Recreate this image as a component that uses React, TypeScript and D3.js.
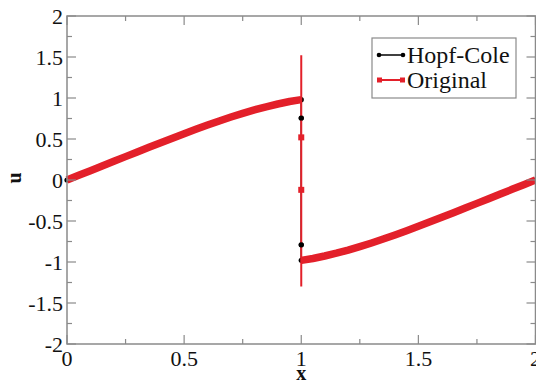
import React from "react";
import * as d3 from "d3";

// ---- data ----
const leftX = [0, 0.05, 0.1, 0.15, 0.2, 0.25, 0.3, 0.35, 0.4, 0.45, 0.5, 0.55, 0.6, 0.65, 0.7, 0.75, 0.8, 0.85, 0.9, 0.95, 1.0];
const leftU = [0, 0.057, 0.114, 0.171, 0.228, 0.285, 0.342, 0.398, 0.454, 0.51, 0.565, 0.618, 0.67, 0.72, 0.768, 0.813, 0.855, 0.893, 0.927, 0.957, 0.98];
const rightX = [1.0, 1.05, 1.1, 1.15, 1.2, 1.25, 1.3, 1.35, 1.4, 1.45, 1.5, 1.55, 1.6, 1.65, 1.7, 1.75, 1.8, 1.85, 1.9, 1.95, 2.0];
const rightU = [-0.98, -0.957, -0.927, -0.893, -0.855, -0.813, -0.768, -0.72, -0.67, -0.618, -0.565, -0.51, -0.454, -0.398, -0.342, -0.285, -0.228, -0.171, -0.114, -0.057, 0];
const shockX = 1.0;
const hopfShockU = [0.756, -0.79];
const origShockU = [1.52, 0.52, -0.12, -1.3];
const origShockMarked = [false, true, true, false];

const xTicks = [0, 0.5, 1, 1.5, 2];
const xTickLabels = ["0", "0.5", "1", "1.5", "2"];
const yTicks = [-2, -1.5, -1, -0.5, 0, 0.5, 1, 1.5, 2];
const yTickLabels = ["-2", "-1.5", "-1", "-0.5", "0", "0.5", "1", "1.5", "2"];
const xMinor = [0.25, 0.75, 1.25, 1.75];
const yMinor = [-1.75, -1.25, -0.75, -0.25, 0.25, 0.75, 1.25, 1.75];
const seriesNames = ["Hopf-Cole", "Original"];

const RED = "#e3202a";
const AXIS = "#8a8a8a";
const FONT = "'Liberation Serif', 'Times New Roman', serif";

export default function App() {
  const W = 536, H = 381;
  const x = d3.scaleLinear().domain([0, 2]).range([67, 535.5]);
  const y = d3.scaleLinear().domain([-2, 2]).range([344, 16]);
  const [x0, x1] = x.range();
  const [y0, y1] = y.range();

  type P = [number, number];
  const left: P[] = leftX.map((v, i) => [v, leftU[i]]);
  const right: P[] = rightX.map((v, i) => [v, rightU[i]]);
  const hopf: P[] = [...left, ...hopfShockU.map((u) => [shockX, u] as P), ...right];
  const orig: P[] = [...left, ...origShockU.map((u) => [shockX, u] as P), ...right];

  const line = d3.line<P>().x((d) => x(d[0])).y((d) => y(d[1]));

  const major = 9, minor = 5;

  return (
    <svg width={W} height={H} style={{ position: "fixed", left: 0, top: 0, background: "#fff" }} fontFamily={FONT}>
      <rect x={0} y={0} width={W} height={H} fill="#fff" />
      {/* Hopf-Cole series */}
      <path d={line(hopf) || ""} fill="none" stroke="#000" strokeWidth={1.5} />
      {hopf.map((d, i) => (
        <circle key={"h" + i} cx={x(d[0])} cy={y(d[1])} r={2.6} fill="#000" />
      ))}
      {/* Original series: thin connecting line + dense square markers along branches */}
      <path d={line(orig) || ""} fill="none" stroke={RED} strokeWidth={2} />
      <path d={line(left) || ""} fill="none" stroke={RED} strokeWidth={7.5} strokeLinejoin="round" />
      <path d={line(right) || ""} fill="none" stroke={RED} strokeWidth={7.5} strokeLinejoin="round" />
      {origShockU.map((u, i) =>
        origShockMarked[i] ? (
          <rect key={"o" + i} x={x(shockX) - 3} y={y(u) - 3} width={6} height={6} fill={RED} />
        ) : null
      )}
      {hopfShockU.map((u, i) => (
        <circle key={"hs" + i} cx={x(shockX)} cy={y(u)} r={2.6} fill="#000" />
      ))}

      {/* frame */}
      <rect x={x0} y={y1} width={x1 - x0} height={y0 - y1} fill="none" stroke={AXIS} strokeWidth={1.5} />
      {/* ticks */}
      {xTicks.map((t) => (
        <g key={"xt" + t} stroke={AXIS} strokeWidth={1.2}>
          <line x1={x(t)} x2={x(t)} y1={y0} y2={y0 - major} />
          <line x1={x(t)} x2={x(t)} y1={y1} y2={y1 + major} />
        </g>
      ))}
      {xMinor.map((t) => (
        <g key={"xm" + t} stroke={AXIS} strokeWidth={1.2}>
          <line x1={x(t)} x2={x(t)} y1={y0} y2={y0 - minor} />
          <line x1={x(t)} x2={x(t)} y1={y1} y2={y1 + minor} />
        </g>
      ))}
      {yTicks.map((t) => (
        <g key={"yt" + t} stroke={AXIS} strokeWidth={1.2}>
          <line x1={x0} x2={x0 + major} y1={y(t)} y2={y(t)} />
          <line x1={x1} x2={x1 - major} y1={y(t)} y2={y(t)} />
        </g>
      ))}
      {yMinor.map((t) => (
        <g key={"ym" + t} stroke={AXIS} strokeWidth={1.2}>
          <line x1={x0} x2={x0 + minor} y1={y(t)} y2={y(t)} />
          <line x1={x1} x2={x1 - minor} y1={y(t)} y2={y(t)} />
        </g>
      ))}
      {/* tick labels */}
      {xTicks.map((t, i) => (
        <text key={"xl" + t} x={x(t)} y={y0 + 22} textAnchor="middle" fontSize={22} fill="#111">
          {xTickLabels[i]}
        </text>
      ))}
      {yTicks.map((t, i) => (
        <text key={"yl" + t} x={x0 - 4} y={y(t) + 7.5} textAnchor="end" fontSize={22} fill="#111">
          {yTickLabels[i]}
        </text>
      ))}
      {/* axis titles */}
      <text x={x(1)} y={380} textAnchor="middle" fontSize={20} fontWeight="bold" fill="#111">x</text>
      <text transform={`translate(21, ${y(0) - 2}) rotate(-90)`} textAnchor="middle" fontSize={20} fontWeight="bold" fill="#111">u</text>

      {/* legend */}
      <rect x={372} y={38} width={144} height={60} fill="#fff" stroke={AXIS} strokeWidth={1.2} />
      <line x1={378} x2={404} y1={55} y2={55} stroke="#000" strokeWidth={1.5} />
      <circle cx={379} cy={55} r={2.3} fill="#000" />
      <circle cx={403} cy={55} r={2.3} fill="#000" />
      <text x={407} y={63} fontSize={24} fill="#111">{seriesNames[0]}</text>
      <line x1={378} x2={404} y1={80} y2={80} stroke={RED} strokeWidth={2} />
      <rect x={377} y={77.5} width={5} height={5} fill={RED} />
      <rect x={400} y={77.5} width={5} height={5} fill={RED} />
      <text x={407} y={88} fontSize={24} fill="#111">{seriesNames[1]}</text>
    </svg>
  );
}
